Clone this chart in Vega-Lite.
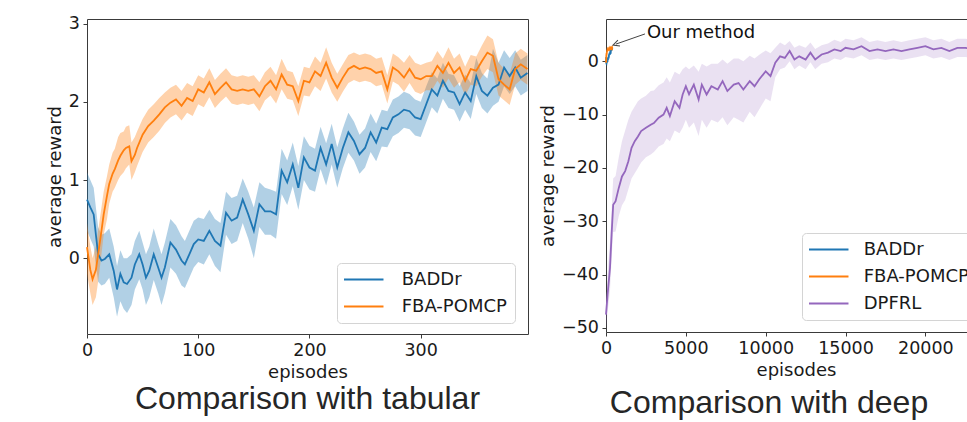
{
  "$schema": "https://vega.github.io/schema/vega-lite/v6.json",
  "padding": {"left": 45, "top": 14, "right": 0, "bottom": 0},
  "bounds": "flush",
  "spacing": 78,
  "background": "white",
  "datasets": {
    "tab": [
      {"s":"BADDr","ep":0,"m":0.75,"lo":0.35,"hi":1.1},
      {"s":"BADDr","ep":3,"m":0.65,"lo":0.25,"hi":1.0},
      {"s":"BADDr","ep":6,"m":0.56,"lo":0.15,"hi":0.9},
      {"s":"BADDr","ep":8,"m":0.3,"lo":-0.1,"hi":0.65},
      {"s":"BADDr","ep":10,"m":0.05,"lo":-0.3,"hi":0.4},
      {"s":"BADDr","ep":13,"m":-0.03,"lo":-0.35,"hi":0.3},
      {"s":"BADDr","ep":16,"m":-0.01,"lo":-0.33,"hi":0.32},
      {"s":"BADDr","ep":20,"m":0.05,"lo":-0.25,"hi":0.38},
      {"s":"BADDr","ep":24,"m":-0.16,"lo":-0.5,"hi":0.15},
      {"s":"BADDr","ep":27,"m":-0.4,"lo":-0.75,"hi":-0.1},
      {"s":"BADDr","ep":30,"m":-0.2,"lo":-0.55,"hi":0.1},
      {"s":"BADDr","ep":33,"m":-0.31,"lo":-0.65,"hi":0.0},
      {"s":"BADDr","ep":36,"m":-0.33,"lo":-0.7,"hi":0.0},
      {"s":"BADDr","ep":40,"m":-0.25,"lo":-0.6,"hi":0.05},
      {"s":"BADDr","ep":43,"m":-0.08,"lo":-0.4,"hi":0.22},
      {"s":"BADDr","ep":47,"m":0.05,"lo":-0.27,"hi":0.35},
      {"s":"BADDr","ep":50,"m":-0.08,"lo":-0.4,"hi":0.2},
      {"s":"BADDr","ep":53,"m":-0.25,"lo":-0.6,"hi":0.05},
      {"s":"BADDr","ep":56,"m":-0.16,"lo":-0.5,"hi":0.15},
      {"s":"BADDr","ep":60,"m":0.05,"lo":-0.28,"hi":0.38},
      {"s":"BADDr","ep":64,"m":-0.12,"lo":-0.45,"hi":0.18},
      {"s":"BADDr","ep":67,"m":-0.25,"lo":-0.6,"hi":0.05},
      {"s":"BADDr","ep":70,"m":-0.12,"lo":-0.45,"hi":0.2},
      {"s":"BADDr","ep":75,"m":0.2,"lo":-0.12,"hi":0.5},
      {"s":"BADDr","ep":80,"m":0.11,"lo":-0.2,"hi":0.42},
      {"s":"BADDr","ep":85,"m":-0.03,"lo":-0.35,"hi":0.28},
      {"s":"BADDr","ep":88,"m":-0.08,"lo":-0.38,"hi":0.22},
      {"s":"BADDr","ep":92,"m":0.05,"lo":-0.25,"hi":0.35},
      {"s":"BADDr","ep":96,"m":0.18,"lo":-0.12,"hi":0.48},
      {"s":"BADDr","ep":100,"m":0.24,"lo":-0.05,"hi":0.52},
      {"s":"BADDr","ep":105,"m":0.22,"lo":-0.08,"hi":0.5},
      {"s":"BADDr","ep":110,"m":0.35,"lo":0.05,"hi":0.62},
      {"s":"BADDr","ep":115,"m":0.22,"lo":-0.1,"hi":0.5},
      {"s":"BADDr","ep":120,"m":0.16,"lo":-0.18,"hi":0.45},
      {"s":"BADDr","ep":125,"m":0.58,"lo":0.3,"hi":0.85},
      {"s":"BADDr","ep":130,"m":0.48,"lo":0.18,"hi":0.77},
      {"s":"BADDr","ep":135,"m":0.52,"lo":0.22,"hi":0.8},
      {"s":"BADDr","ep":140,"m":0.75,"lo":0.45,"hi":1.02},
      {"s":"BADDr","ep":145,"m":0.56,"lo":0.25,"hi":0.85},
      {"s":"BADDr","ep":150,"m":0.35,"lo":0.0,"hi":0.65},
      {"s":"BADDr","ep":155,"m":0.69,"lo":0.4,"hi":0.97},
      {"s":"BADDr","ep":160,"m":0.6,"lo":0.3,"hi":0.9},
      {"s":"BADDr","ep":165,"m":0.6,"lo":0.3,"hi":0.88},
      {"s":"BADDr","ep":170,"m":0.56,"lo":0.25,"hi":0.85},
      {"s":"BADDr","ep":175,"m":1.12,"lo":0.82,"hi":1.4},
      {"s":"BADDr","ep":180,"m":0.97,"lo":0.68,"hi":1.25},
      {"s":"BADDr","ep":185,"m":1.2,"lo":0.92,"hi":1.48},
      {"s":"BADDr","ep":190,"m":0.9,"lo":0.62,"hi":1.18},
      {"s":"BADDr","ep":195,"m":1.29,"lo":1.0,"hi":1.56},
      {"s":"BADDr","ep":200,"m":1.16,"lo":0.88,"hi":1.44},
      {"s":"BADDr","ep":205,"m":1.12,"lo":0.85,"hi":1.4},
      {"s":"BADDr","ep":210,"m":1.41,"lo":1.14,"hi":1.68},
      {"s":"BADDr","ep":215,"m":1.2,"lo":0.93,"hi":1.47},
      {"s":"BADDr","ep":220,"m":1.46,"lo":1.2,"hi":1.72},
      {"s":"BADDr","ep":225,"m":1.16,"lo":0.9,"hi":1.42},
      {"s":"BADDr","ep":230,"m":1.41,"lo":1.15,"hi":1.66},
      {"s":"BADDr","ep":235,"m":1.61,"lo":1.35,"hi":1.86},
      {"s":"BADDr","ep":240,"m":1.5,"lo":1.25,"hi":1.75},
      {"s":"BADDr","ep":245,"m":1.33,"lo":1.08,"hi":1.58},
      {"s":"BADDr","ep":250,"m":1.41,"lo":1.16,"hi":1.66},
      {"s":"BADDr","ep":255,"m":1.61,"lo":1.36,"hi":1.85},
      {"s":"BADDr","ep":260,"m":1.48,"lo":1.24,"hi":1.72},
      {"s":"BADDr","ep":265,"m":1.67,"lo":1.43,"hi":1.9},
      {"s":"BADDr","ep":270,"m":1.65,"lo":1.42,"hi":1.88},
      {"s":"BADDr","ep":275,"m":1.8,"lo":1.56,"hi":2.03},
      {"s":"BADDr","ep":280,"m":1.84,"lo":1.6,"hi":2.07},
      {"s":"BADDr","ep":285,"m":1.9,"lo":1.67,"hi":2.13},
      {"s":"BADDr","ep":290,"m":1.88,"lo":1.65,"hi":2.1},
      {"s":"BADDr","ep":295,"m":1.8,"lo":1.57,"hi":2.03},
      {"s":"BADDr","ep":300,"m":1.78,"lo":1.55,"hi":2.0},
      {"s":"BADDr","ep":305,"m":1.97,"lo":1.74,"hi":2.2},
      {"s":"BADDr","ep":310,"m":2.16,"lo":1.93,"hi":2.38},
      {"s":"BADDr","ep":315,"m":2.08,"lo":1.85,"hi":2.3},
      {"s":"BADDr","ep":320,"m":2.27,"lo":2.04,"hi":2.5},
      {"s":"BADDr","ep":325,"m":2.14,"lo":1.92,"hi":2.36},
      {"s":"BADDr","ep":330,"m":2.12,"lo":1.9,"hi":2.34},
      {"s":"BADDr","ep":335,"m":1.97,"lo":1.75,"hi":2.2},
      {"s":"BADDr","ep":340,"m":2.12,"lo":1.9,"hi":2.35},
      {"s":"BADDr","ep":345,"m":2.01,"lo":1.78,"hi":2.24},
      {"s":"BADDr","ep":350,"m":2.33,"lo":2.1,"hi":2.56},
      {"s":"BADDr","ep":355,"m":2.14,"lo":1.92,"hi":2.37},
      {"s":"BADDr","ep":360,"m":2.08,"lo":1.85,"hi":2.3},
      {"s":"BADDr","ep":365,"m":2.18,"lo":1.95,"hi":2.68},
      {"s":"BADDr","ep":370,"m":2.22,"lo":2.0,"hi":2.5},
      {"s":"BADDr","ep":375,"m":2.44,"lo":2.2,"hi":2.66},
      {"s":"BADDr","ep":380,"m":2.33,"lo":2.1,"hi":2.56},
      {"s":"BADDr","ep":385,"m":2.44,"lo":2.2,"hi":2.66},
      {"s":"BADDr","ep":390,"m":2.31,"lo":2.08,"hi":2.54},
      {"s":"BADDr","ep":396,"m":2.37,"lo":2.14,"hi":2.6},
      {"s":"FBA-POMCP","ep":0,"m":0.14,"lo":-0.2,"hi":0.45},
      {"s":"FBA-POMCP","ep":3,"m":-0.15,"lo":-0.45,"hi":0.15},
      {"s":"FBA-POMCP","ep":5,"m":-0.27,"lo":-0.6,"hi":0.0},
      {"s":"FBA-POMCP","ep":8,"m":-0.15,"lo":-0.5,"hi":0.15},
      {"s":"FBA-POMCP","ep":10,"m":0.05,"lo":-0.3,"hi":0.35},
      {"s":"FBA-POMCP","ep":13,"m":0.35,"lo":0.05,"hi":0.65},
      {"s":"FBA-POMCP","ep":15,"m":0.56,"lo":0.3,"hi":0.85},
      {"s":"FBA-POMCP","ep":18,"m":0.8,"lo":0.5,"hi":1.05},
      {"s":"FBA-POMCP","ep":20,"m":0.95,"lo":0.7,"hi":1.2},
      {"s":"FBA-POMCP","ep":23,"m":1.08,"lo":0.85,"hi":1.35},
      {"s":"FBA-POMCP","ep":25,"m":1.14,"lo":0.9,"hi":1.4},
      {"s":"FBA-POMCP","ep":28,"m":1.25,"lo":1.0,"hi":1.55},
      {"s":"FBA-POMCP","ep":30,"m":1.31,"lo":1.05,"hi":1.6},
      {"s":"FBA-POMCP","ep":33,"m":1.38,"lo":1.1,"hi":1.62},
      {"s":"FBA-POMCP","ep":35,"m":1.41,"lo":1.15,"hi":1.68},
      {"s":"FBA-POMCP","ep":38,"m":1.43,"lo":1.2,"hi":1.7},
      {"s":"FBA-POMCP","ep":40,"m":1.24,"lo":1.0,"hi":1.48},
      {"s":"FBA-POMCP","ep":43,"m":1.32,"lo":1.1,"hi":1.55},
      {"s":"FBA-POMCP","ep":45,"m":1.41,"lo":1.18,"hi":1.62},
      {"s":"FBA-POMCP","ep":50,"m":1.58,"lo":1.36,"hi":1.78},
      {"s":"FBA-POMCP","ep":55,"m":1.69,"lo":1.48,"hi":1.9},
      {"s":"FBA-POMCP","ep":60,"m":1.76,"lo":1.55,"hi":1.97},
      {"s":"FBA-POMCP","ep":65,"m":1.84,"lo":1.63,"hi":2.05},
      {"s":"FBA-POMCP","ep":70,"m":1.93,"lo":1.73,"hi":2.12},
      {"s":"FBA-POMCP","ep":75,"m":1.99,"lo":1.8,"hi":2.18},
      {"s":"FBA-POMCP","ep":80,"m":2.03,"lo":1.84,"hi":2.22},
      {"s":"FBA-POMCP","ep":85,"m":1.95,"lo":1.76,"hi":2.14},
      {"s":"FBA-POMCP","ep":90,"m":2.05,"lo":1.86,"hi":2.24},
      {"s":"FBA-POMCP","ep":95,"m":2.01,"lo":1.82,"hi":2.2},
      {"s":"FBA-POMCP","ep":100,"m":2.16,"lo":1.97,"hi":2.34},
      {"s":"FBA-POMCP","ep":105,"m":2.12,"lo":1.93,"hi":2.3},
      {"s":"FBA-POMCP","ep":110,"m":2.25,"lo":2.06,"hi":2.43},
      {"s":"FBA-POMCP","ep":115,"m":2.1,"lo":1.92,"hi":2.28},
      {"s":"FBA-POMCP","ep":120,"m":2.18,"lo":2.0,"hi":2.36},
      {"s":"FBA-POMCP","ep":125,"m":2.25,"lo":2.07,"hi":2.43},
      {"s":"FBA-POMCP","ep":130,"m":2.16,"lo":1.98,"hi":2.34},
      {"s":"FBA-POMCP","ep":135,"m":2.14,"lo":1.96,"hi":2.32},
      {"s":"FBA-POMCP","ep":140,"m":2.16,"lo":1.98,"hi":2.34},
      {"s":"FBA-POMCP","ep":145,"m":2.14,"lo":1.96,"hi":2.32},
      {"s":"FBA-POMCP","ep":150,"m":2.16,"lo":1.98,"hi":2.34},
      {"s":"FBA-POMCP","ep":155,"m":2.07,"lo":1.88,"hi":2.25},
      {"s":"FBA-POMCP","ep":160,"m":2.2,"lo":2.02,"hi":2.38},
      {"s":"FBA-POMCP","ep":165,"m":2.27,"lo":2.08,"hi":2.45},
      {"s":"FBA-POMCP","ep":170,"m":2.16,"lo":1.98,"hi":2.34},
      {"s":"FBA-POMCP","ep":175,"m":2.35,"lo":2.16,"hi":2.55},
      {"s":"FBA-POMCP","ep":180,"m":2.22,"lo":2.04,"hi":2.4},
      {"s":"FBA-POMCP","ep":185,"m":2.2,"lo":2.02,"hi":2.38},
      {"s":"FBA-POMCP","ep":190,"m":2.01,"lo":1.82,"hi":2.2},
      {"s":"FBA-POMCP","ep":195,"m":2.27,"lo":2.08,"hi":2.45},
      {"s":"FBA-POMCP","ep":200,"m":2.25,"lo":2.07,"hi":2.43},
      {"s":"FBA-POMCP","ep":205,"m":2.39,"lo":2.2,"hi":2.58},
      {"s":"FBA-POMCP","ep":210,"m":2.33,"lo":2.14,"hi":2.5},
      {"s":"FBA-POMCP","ep":215,"m":2.5,"lo":2.3,"hi":2.7},
      {"s":"FBA-POMCP","ep":220,"m":2.31,"lo":2.12,"hi":2.5},
      {"s":"FBA-POMCP","ep":225,"m":2.18,"lo":2.0,"hi":2.36},
      {"s":"FBA-POMCP","ep":230,"m":2.31,"lo":2.13,"hi":2.48},
      {"s":"FBA-POMCP","ep":235,"m":2.42,"lo":2.24,"hi":2.6},
      {"s":"FBA-POMCP","ep":240,"m":2.46,"lo":2.28,"hi":2.63},
      {"s":"FBA-POMCP","ep":245,"m":2.42,"lo":2.25,"hi":2.6},
      {"s":"FBA-POMCP","ep":250,"m":2.44,"lo":2.27,"hi":2.62},
      {"s":"FBA-POMCP","ep":255,"m":2.42,"lo":2.25,"hi":2.6},
      {"s":"FBA-POMCP","ep":260,"m":2.37,"lo":2.2,"hi":2.55},
      {"s":"FBA-POMCP","ep":265,"m":2.39,"lo":2.22,"hi":2.57},
      {"s":"FBA-POMCP","ep":270,"m":2.16,"lo":1.98,"hi":2.34},
      {"s":"FBA-POMCP","ep":275,"m":2.44,"lo":2.26,"hi":2.62},
      {"s":"FBA-POMCP","ep":280,"m":2.39,"lo":2.22,"hi":2.57},
      {"s":"FBA-POMCP","ep":285,"m":2.31,"lo":2.13,"hi":2.5},
      {"s":"FBA-POMCP","ep":290,"m":2.42,"lo":2.24,"hi":2.6},
      {"s":"FBA-POMCP","ep":295,"m":2.31,"lo":2.13,"hi":2.5},
      {"s":"FBA-POMCP","ep":300,"m":2.29,"lo":2.1,"hi":2.47},
      {"s":"FBA-POMCP","ep":305,"m":2.33,"lo":2.15,"hi":2.5},
      {"s":"FBA-POMCP","ep":310,"m":2.33,"lo":2.15,"hi":2.52},
      {"s":"FBA-POMCP","ep":315,"m":2.46,"lo":2.27,"hi":2.65},
      {"s":"FBA-POMCP","ep":320,"m":2.37,"lo":2.18,"hi":2.55},
      {"s":"FBA-POMCP","ep":325,"m":2.5,"lo":2.3,"hi":2.7},
      {"s":"FBA-POMCP","ep":330,"m":2.37,"lo":2.18,"hi":2.55},
      {"s":"FBA-POMCP","ep":335,"m":2.44,"lo":2.25,"hi":2.62},
      {"s":"FBA-POMCP","ep":340,"m":2.27,"lo":2.08,"hi":2.45},
      {"s":"FBA-POMCP","ep":345,"m":2.42,"lo":2.22,"hi":2.6},
      {"s":"FBA-POMCP","ep":350,"m":2.4,"lo":2.2,"hi":2.58},
      {"s":"FBA-POMCP","ep":355,"m":2.52,"lo":2.32,"hi":2.72},
      {"s":"FBA-POMCP","ep":360,"m":2.63,"lo":2.42,"hi":2.85},
      {"s":"FBA-POMCP","ep":365,"m":2.59,"lo":2.38,"hi":2.8},
      {"s":"FBA-POMCP","ep":370,"m":2.29,"lo":2.08,"hi":2.5},
      {"s":"FBA-POMCP","ep":375,"m":2.22,"lo":2.02,"hi":2.42},
      {"s":"FBA-POMCP","ep":380,"m":2.16,"lo":1.96,"hi":2.36},
      {"s":"FBA-POMCP","ep":385,"m":2.42,"lo":2.22,"hi":2.62},
      {"s":"FBA-POMCP","ep":390,"m":2.48,"lo":2.28,"hi":2.68},
      {"s":"FBA-POMCP","ep":396,"m":2.42,"lo":2.22,"hi":2.62}
    ],
    "deep": [
      {"s":"DPFRL","ep":0,"m":-47.5,"lo":-50,"hi":-45},
      {"s":"DPFRL","ep":100,"m":-43.75,"lo":-47,"hi":-40},
      {"s":"DPFRL","ep":250,"m":-38.75,"lo":-43,"hi":-34},
      {"s":"DPFRL","ep":350,"m":-32.5,"lo":-37,"hi":-28},
      {"s":"DPFRL","ep":450,"m":-26.9,"lo":-32,"hi":-22},
      {"s":"DPFRL","ep":600,"m":-26.25,"lo":-31.9,"hi":-21.5},
      {"s":"DPFRL","ep":800,"m":-23.75,"lo":-29,"hi":-18},
      {"s":"DPFRL","ep":1000,"m":-21.6,"lo":-27,"hi":-15},
      {"s":"DPFRL","ep":1200,"m":-20.6,"lo":-26,"hi":-13},
      {"s":"DPFRL","ep":1400,"m":-18.75,"lo":-24,"hi":-11},
      {"s":"DPFRL","ep":1600,"m":-16.25,"lo":-22,"hi":-9.5},
      {"s":"DPFRL","ep":1800,"m":-15,"lo":-21,"hi":-8.5},
      {"s":"DPFRL","ep":2000,"m":-14.1,"lo":-20,"hi":-7.5},
      {"s":"DPFRL","ep":2200,"m":-13.1,"lo":-19,"hi":-7},
      {"s":"DPFRL","ep":2500,"m":-12.5,"lo":-18,"hi":-6.5},
      {"s":"DPFRL","ep":2800,"m":-11.9,"lo":-17.5,"hi":-5.6},
      {"s":"DPFRL","ep":3000,"m":-11.6,"lo":-17,"hi":-5.5},
      {"s":"DPFRL","ep":3300,"m":-10.6,"lo":-16,"hi":-4.5},
      {"s":"DPFRL","ep":3600,"m":-10,"lo":-15.5,"hi":-4},
      {"s":"DPFRL","ep":3800,"m":-8.75,"lo":-14.5,"hi":-3},
      {"s":"DPFRL","ep":4000,"m":-10.3,"lo":-15,"hi":-4},
      {"s":"DPFRL","ep":4300,"m":-7.5,"lo":-13,"hi":-2},
      {"s":"DPFRL","ep":4600,"m":-8.75,"lo":-13.5,"hi":-2.5},
      {"s":"DPFRL","ep":4800,"m":-6.25,"lo":-12.5,"hi":-1.5},
      {"s":"DPFRL","ep":5000,"m":-4.7,"lo":-11,"hi":-1},
      {"s":"DPFRL","ep":5200,"m":-6.2,"lo":-12.5,"hi":-1.5},
      {"s":"DPFRL","ep":5500,"m":-4.4,"lo":-11.5,"hi":-0.8},
      {"s":"DPFRL","ep":5800,"m":-7.2,"lo":-14,"hi":-2},
      {"s":"DPFRL","ep":6000,"m":-4.4,"lo":-11,"hi":-0.5},
      {"s":"DPFRL","ep":6300,"m":-6.25,"lo":-12.5,"hi":-1},
      {"s":"DPFRL","ep":6600,"m":-4.7,"lo":-11,"hi":-0.5},
      {"s":"DPFRL","ep":7000,"m":-5.3,"lo":-11.5,"hi":-0.5},
      {"s":"DPFRL","ep":7300,"m":-3.75,"lo":-10.5,"hi":0.3},
      {"s":"DPFRL","ep":7600,"m":-5.6,"lo":-12,"hi":-0.5},
      {"s":"DPFRL","ep":8000,"m":-4.4,"lo":-10.5,"hi":0.5},
      {"s":"DPFRL","ep":8300,"m":-4.1,"lo":-11,"hi":0.5},
      {"s":"DPFRL","ep":8600,"m":-5.3,"lo":-11.5,"hi":0},
      {"s":"DPFRL","ep":9000,"m":-3.75,"lo":-9.5,"hi":1},
      {"s":"DPFRL","ep":9300,"m":-4.7,"lo":-10.5,"hi":0.5},
      {"s":"DPFRL","ep":9600,"m":-3.4,"lo":-9,"hi":1.2},
      {"s":"DPFRL","ep":10000,"m":-1.9,"lo":-7,"hi":2},
      {"s":"DPFRL","ep":10300,"m":-2.8,"lo":-7.5,"hi":1.5},
      {"s":"DPFRL","ep":10600,"m":-0.3,"lo":-3,"hi":2.5},
      {"s":"DPFRL","ep":10900,"m":0.9,"lo":-1.5,"hi":3.5},
      {"s":"DPFRL","ep":11200,"m":0.6,"lo":-1.2,"hi":3},
      {"s":"DPFRL","ep":11500,"m":1.9,"lo":0,"hi":3.8},
      {"s":"DPFRL","ep":11800,"m":0.3,"lo":-1.5,"hi":2.5},
      {"s":"DPFRL","ep":12100,"m":0.9,"lo":-0.8,"hi":3},
      {"s":"DPFRL","ep":12500,"m":0.3,"lo":-1.5,"hi":2.5},
      {"s":"DPFRL","ep":12800,"m":1.6,"lo":-0.2,"hi":3.5},
      {"s":"DPFRL","ep":13100,"m":0.3,"lo":-1.5,"hi":2.3},
      {"s":"DPFRL","ep":13500,"m":1.25,"lo":-0.5,"hi":3},
      {"s":"DPFRL","ep":13900,"m":1.6,"lo":-0.2,"hi":3.3},
      {"s":"DPFRL","ep":14300,"m":2.2,"lo":0.5,"hi":4},
      {"s":"DPFRL","ep":14700,"m":1.9,"lo":0.2,"hi":3.6},
      {"s":"DPFRL","ep":15000,"m":2.5,"lo":0.8,"hi":4.2},
      {"s":"DPFRL","ep":15500,"m":2.2,"lo":0.5,"hi":3.9},
      {"s":"DPFRL","ep":16000,"m":2.8,"lo":1.1,"hi":4.5},
      {"s":"DPFRL","ep":16500,"m":1.9,"lo":0.2,"hi":3.6},
      {"s":"DPFRL","ep":17000,"m":2.2,"lo":0.5,"hi":3.9},
      {"s":"DPFRL","ep":17500,"m":1.9,"lo":0.2,"hi":3.6},
      {"s":"DPFRL","ep":18000,"m":2.2,"lo":0.5,"hi":3.9},
      {"s":"DPFRL","ep":18500,"m":1.9,"lo":0.2,"hi":3.6},
      {"s":"DPFRL","ep":19000,"m":2.2,"lo":0.5,"hi":3.9},
      {"s":"DPFRL","ep":19500,"m":2.5,"lo":0.8,"hi":4.2},
      {"s":"DPFRL","ep":20000,"m":2.8,"lo":1.1,"hi":4.5},
      {"s":"DPFRL","ep":20500,"m":2.2,"lo":0.5,"hi":3.9},
      {"s":"DPFRL","ep":21000,"m":2.5,"lo":0.8,"hi":4.2},
      {"s":"DPFRL","ep":21500,"m":1.9,"lo":0.2,"hi":3.6},
      {"s":"DPFRL","ep":22000,"m":2.5,"lo":0.8,"hi":4.2},
      {"s":"DPFRL","ep":22500,"m":2.5,"lo":0.8,"hi":4.2},
      {"s":"DPFRL","ep":23000,"m":2.2,"lo":0.5,"hi":3.9},
      {"s":"DPFRL","ep":23800,"m":2.4,"lo":0.7,"hi":4.1}
    ],
    "arrow": [{"ep":2440,"v":5.1,"ep2":625,"v2":3.2}],
    "ann": [{"ep":2560,"v":5.25,"label":"Our method"}]
  },
  "hconcat": [
    {
      "width": 441,
      "height": 315,
      "title": {"text": "Comparison with tabular", "offset": 3},
      "data": {"name": "tab"},
      "layer": [
        {
          "mark": {"type": "area", "opacity": 0.35},
          "encoding": {
            "x": {"field": "ep", "type": "quantitative", "scale": {"domain": [0, 396.5], "nice": false, "zero": false}, "axis": {"values": [0, 100, 200, 300], "title": "episodes"}},
            "y": {"field": "lo", "type": "quantitative", "stack": null, "scale": {"domain": [-0.97, 3.06], "nice": false, "zero": false}, "axis": {"values": [0, 1, 2, 3], "format": "d", "title": "average reward"}},
            "y2": {"field": "hi"},
            "color": {"field": "s", "type": "nominal", "scale": {"domain": ["BADDr", "FBA-POMCP"], "range": ["#1f77b4", "#ff7f0e"]}, "legend": {"orient": "none", "legendX": 250, "legendY": 244, "title": null, "labelOffset": 29}}
          }
        },
        {
          "mark": {"type": "line", "strokeWidth": 1.8},
          "encoding": {
            "x": {"field": "ep", "type": "quantitative"},
            "y": {"field": "m", "type": "quantitative"},
            "color": {"field": "s", "type": "nominal"}
          }
        }
      ]
    },
    {
      "width": 380,
      "height": 313,
      "title": {"text": "Comparison with deep", "offset": 9, "dx": -27},
      "layer": [
        {
          "data": {"name": "tab"},
          "mark": {"type": "area", "opacity": 0.35},
          "encoding": {
            "x": {"field": "ep", "type": "quantitative", "scale": {"domain": [0, 23795], "nice": false, "zero": false}, "axis": {"values": [0, 5000, 10000, 15000, 20000], "format": "d", "title": "episodes"}},
            "y": {"field": "lo", "type": "quantitative", "stack": null, "scale": {"domain": [-50.75, 7.9], "nice": false, "zero": false}, "axis": {"values": [-50, -40, -30, -20, -10, 0], "title": "average reward"}},
            "y2": {"field": "hi"},
            "color": {"field": "s", "type": "nominal", "scale": {"domain": ["BADDr", "FBA-POMCP", "DPFRL"], "range": ["#1f77b4", "#ff7f0e", "#9467bd"]}, "legend": {"orient": "none", "legendX": 196, "legendY": 214, "title": null}}
          }
        },
        {
          "data": {"name": "tab"},
          "mark": {"type": "line", "strokeWidth": 1.8},
          "encoding": {
            "x": {"field": "ep", "type": "quantitative"},
            "y": {"field": "m", "type": "quantitative"},
            "color": {"field": "s", "type": "nominal"}
          }
        },
        {
          "data": {"name": "deep"},
          "mark": {"type": "area", "opacity": 0.2},
          "encoding": {
            "x": {"field": "ep", "type": "quantitative"},
            "y": {"field": "lo", "type": "quantitative", "stack": null},
            "y2": {"field": "hi"},
            "color": {"field": "s", "type": "nominal"}
          }
        },
        {
          "data": {"name": "deep"},
          "mark": {"type": "line", "strokeWidth": 1.8},
          "encoding": {
            "x": {"field": "ep", "type": "quantitative"},
            "y": {"field": "m", "type": "quantitative"},
            "color": {"field": "s", "type": "nominal"}
          }
        },
        {
          "data": {"name": "arrow"},
          "mark": {"type": "rule", "color": "#444444", "strokeWidth": 1},
          "encoding": {
            "x": {"field": "ep", "type": "quantitative"},
            "y": {"field": "v", "type": "quantitative"},
            "x2": {"field": "ep2"},
            "y2": {"field": "v2"}
          }
        },
        {
          "data": {"name": "arrow"},
          "mark": {"type": "point", "shape": "M1,-1L-1,0L1,1", "filled": false, "color": "#444444", "strokeWidth": 1, "size": 40, "angle": -19, "opacity": 1},
          "encoding": {
            "x": {"field": "ep2", "type": "quantitative"},
            "y": {"field": "v2", "type": "quantitative"}
          }
        },
        {
          "data": {"name": "ann"},
          "mark": {"type": "text", "align": "left", "baseline": "middle", "fontSize": 18, "color": "#111111"},
          "encoding": {
            "x": {"field": "ep", "type": "quantitative"},
            "y": {"field": "v", "type": "quantitative"},
            "text": {"field": "label"}
          }
        }
      ]
    }
  ],
  "resolve": {"scale": {"color": "independent", "x": "independent", "y": "independent"}, "legend": {"color": "independent"}},
  "config": {
    "font": "DejaVu Sans",
    "view": {"stroke": "#3a3a3a", "strokeWidth": 1},
    "axis": {"grid": false, "domain": false, "tickColor": "#3a3a3a", "tickSize": 4, "labelFontSize": 17.5, "labelColor": "#1a1a1a", "titleFontSize": 18, "titleFontWeight": "normal", "titleColor": "#1a1a1a", "labelPadding": 3.5, "titlePadding": 4, "labelFlush": false},
    "legend": {"symbolType": "M-3.29,0H3.29", "symbolSize": 144, "symbolStrokeWidth": 2, "symbolOpacity": 1, "symbolOffset": 10.25, "labelFontSize": 18, "labelColor": "#1a1a1a", "labelOffset": 26, "padding": 7.5, "rowPadding": 9, "fillColor": "rgba(255,255,255,0.85)", "strokeColor": "#d4d4d4", "cornerRadius": 4},
    "title": {"font": "Liberation Sans", "fontSize": 32, "fontWeight": "normal", "color": "#262626", "orient": "bottom", "anchor": "middle"}
  }
}
